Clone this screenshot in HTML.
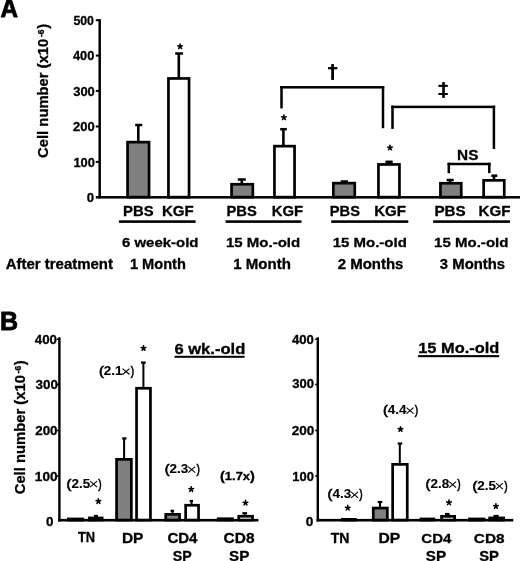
<!DOCTYPE html>
<html><head><meta charset="utf-8"><style>
html,body{margin:0;padding:0;background:#fff;width:520px;height:561px;overflow:hidden}
svg{display:block;will-change:transform}
text{font-family:"Liberation Sans",sans-serif;fill:#000;stroke:#000;stroke-width:0.3px}
</style></head><body>
<svg width="520" height="561" viewBox="0 0 520 561">
<rect width="520" height="561" fill="#fff"/>
<text transform="translate(0.49 17.30) scale(0.9235 1)" font-size="26.309" style="stroke-width:0.8px"><tspan font-weight="bold">A</tspan></text>
<rect x="98.45" y="19.20" width="2.50" height="179.30" fill="#000"/>
<rect x="95.80" y="196.05" width="424.20" height="2.50" fill="#000"/>
<rect x="95.80" y="19.20" width="3.90" height="2.00" fill="#000"/>
<rect x="95.80" y="54.60" width="3.90" height="2.00" fill="#000"/>
<rect x="95.80" y="89.90" width="3.90" height="2.00" fill="#000"/>
<rect x="95.80" y="125.50" width="3.90" height="2.00" fill="#000"/>
<rect x="95.80" y="160.90" width="3.90" height="2.00" fill="#000"/>
<text transform="translate(73.42 24.87) scale(0.9293 1)" font-size="13.277"><tspan font-weight="bold">500</tspan></text>
<text transform="translate(72.91 60.27) scale(0.9670 1)" font-size="13.277"><tspan font-weight="bold">400</tspan></text>
<text transform="translate(73.20 95.55) scale(0.9784 1)" font-size="13.249"><tspan font-weight="bold">300</tspan></text>
<text transform="translate(73.05 131.17) scale(0.9789 1)" font-size="13.277"><tspan font-weight="bold">200</tspan></text>
<text transform="translate(73.39 166.57) scale(0.9725 1)" font-size="13.277"><tspan font-weight="bold">100</tspan></text>
<text transform="translate(86.68 202.27) scale(0.9978 1)" font-size="13.277"><tspan font-weight="bold">0</tspan></text>
<rect x="137.00" y="125.00" width="2.60" height="16.80" fill="#000"/>
<rect x="135.20" y="123.75" width="7.10" height="2.50" fill="#000"/>
<rect x="127.55" y="142.15" width="21.50" height="55.00" fill="#7f7f7f" stroke="#000" stroke-width="2.70"/>
<rect x="177.50" y="53.50" width="2.60" height="24.60" fill="#000"/>
<rect x="175.20" y="52.25" width="7.70" height="2.50" fill="#000"/>
<rect x="168.45" y="78.45" width="20.60" height="118.70" fill="#fff" stroke="#000" stroke-width="2.70"/>
<rect x="240.50" y="179.50" width="2.60" height="4.40" fill="#000"/>
<rect x="237.80" y="178.25" width="8.00" height="2.50" fill="#000"/>
<rect x="231.55" y="184.25" width="21.30" height="12.90" fill="#7f7f7f" stroke="#000" stroke-width="2.70"/>
<rect x="282.10" y="129.20" width="2.60" height="16.60" fill="#000"/>
<rect x="280.20" y="127.95" width="6.60" height="2.50" fill="#000"/>
<rect x="274.45" y="146.15" width="20.10" height="51.00" fill="#fff" stroke="#000" stroke-width="2.70"/>
<rect x="342.70" y="181.50" width="2.60" height="1.30" fill="#000"/>
<rect x="340.70" y="180.25" width="7.20" height="2.50" fill="#000"/>
<rect x="333.35" y="183.15" width="21.40" height="14.00" fill="#7f7f7f" stroke="#000" stroke-width="2.70"/>
<rect x="387.70" y="161.80" width="2.60" height="2.30" fill="#000"/>
<rect x="385.40" y="160.55" width="7.30" height="2.50" fill="#000"/>
<rect x="378.45" y="164.45" width="21.00" height="32.70" fill="#fff" stroke="#000" stroke-width="2.70"/>
<rect x="448.70" y="180.00" width="2.60" height="2.90" fill="#000"/>
<rect x="446.60" y="178.75" width="7.10" height="2.50" fill="#000"/>
<rect x="440.45" y="183.25" width="20.80" height="13.90" fill="#7f7f7f" stroke="#000" stroke-width="2.70"/>
<rect x="492.70" y="175.70" width="2.60" height="4.30" fill="#000"/>
<rect x="491.30" y="174.45" width="6.00" height="2.50" fill="#000"/>
<rect x="483.65" y="180.35" width="20.60" height="16.80" fill="#fff" stroke="#000" stroke-width="2.70"/>
<path d="M180.10 46.50L180.10 44.00M180.10 46.50L177.85 45.80M180.10 46.50L182.35 45.80M180.10 46.50L178.70 48.50M180.10 46.50L181.50 48.50" stroke="#000" stroke-width="1.60" stroke-linecap="round" fill="none"/>
<path d="M283.90 117.50L283.90 115.00M283.90 117.50L281.65 116.80M283.90 117.50L286.15 116.80M283.90 117.50L282.50 119.50M283.90 117.50L285.30 119.50" stroke="#000" stroke-width="1.60" stroke-linecap="round" fill="none"/>
<path d="M390.00 147.70L390.00 145.20M390.00 147.70L387.75 147.00M390.00 147.70L392.25 147.00M390.00 147.70L388.60 149.70M390.00 147.70L391.40 149.70" stroke="#000" stroke-width="1.60" stroke-linecap="round" fill="none"/>
<rect x="280.25" y="86.05" width="2.50" height="22.35" fill="#000"/>
<rect x="381.75" y="86.05" width="2.50" height="42.15" fill="#000"/>
<rect x="280.25" y="86.05" width="104.00" height="2.50" fill="#000"/>
<rect x="391.25" y="105.65" width="2.50" height="23.25" fill="#000"/>
<rect x="492.65" y="105.65" width="2.50" height="43.35" fill="#000"/>
<rect x="391.25" y="105.65" width="103.90" height="2.50" fill="#000"/>
<rect x="447.55" y="162.75" width="2.50" height="10.45" fill="#000"/>
<rect x="488.05" y="162.75" width="2.50" height="10.35" fill="#000"/>
<rect x="447.55" y="162.75" width="43.00" height="2.50" fill="#000"/>
<rect x="331.20" y="64.10" width="2.80" height="15.80" fill="#000"/>
<rect x="328.00" y="67.10" width="9.40" height="2.20" fill="#000"/>
<rect x="442.20" y="82.10" width="2.60" height="15.80" fill="#000"/>
<rect x="438.40" y="84.80" width="9.40" height="2.10" fill="#000"/>
<rect x="438.40" y="93.00" width="9.40" height="2.00" fill="#000"/>
<text transform="translate(457.07 159.66) scale(1.1091 1)" font-size="13.842"><tspan font-weight="bold">NS</tspan></text>
<text transform="translate(123.11 216.26) scale(1.0635 1)" font-size="13.983"><tspan font-weight="bold">PBS</tspan></text>
<text transform="translate(161.89 216.26) scale(1.0760 1)" font-size="13.983"><tspan font-weight="bold">KGF</tspan></text>
<rect x="118.90" y="220.30" width="76.70" height="2.60" fill="#000"/>
<text transform="translate(226.51 216.26) scale(1.0561 1)" font-size="13.983"><tspan font-weight="bold">PBS</tspan></text>
<text transform="translate(271.71 216.26) scale(1.0617 1)" font-size="13.983"><tspan font-weight="bold">KGF</tspan></text>
<rect x="225.60" y="220.30" width="75.90" height="2.60" fill="#000"/>
<text transform="translate(329.82 216.26) scale(1.0488 1)" font-size="13.983"><tspan font-weight="bold">PBS</tspan></text>
<text transform="translate(374.19 216.26) scale(1.0795 1)" font-size="13.983"><tspan font-weight="bold">KGF</tspan></text>
<rect x="331.20" y="220.30" width="77.10" height="2.60" fill="#000"/>
<text transform="translate(434.38 216.26) scale(1.0928 1)" font-size="13.983"><tspan font-weight="bold">PBS</tspan></text>
<text transform="translate(478.59 216.26) scale(1.0831 1)" font-size="13.983"><tspan font-weight="bold">KGF</tspan></text>
<rect x="433.10" y="220.30" width="76.90" height="2.60" fill="#000"/>
<text transform="translate(121.95 247.17) scale(1.0993 1)" font-size="13.617"><tspan font-weight="bold">6 week-old</tspan></text>
<text transform="translate(225.95 247.17) scale(1.1026 1)" font-size="13.617"><tspan font-weight="bold">15 Mo.-old</tspan></text>
<text transform="translate(332.65 247.17) scale(1.1026 1)" font-size="13.617"><tspan font-weight="bold">15 Mo.-old</tspan></text>
<text transform="translate(434.05 247.17) scale(1.1057 1)" font-size="13.617"><tspan font-weight="bold">15 Mo.-old</tspan></text>
<text transform="translate(5.63 269.36) scale(1.0793 1)" font-size="13.889"><tspan font-weight="bold">After treatment</tspan></text>
<text transform="translate(129.88 269.16) scale(1.0323 1)" font-size="14.162"><tspan font-weight="bold">1 Month</tspan></text>
<text transform="translate(233.25 269.16) scale(1.0628 1)" font-size="14.162"><tspan font-weight="bold">1 Month</tspan></text>
<text transform="translate(337.68 269.16) scale(1.0576 1)" font-size="14.162"><tspan font-weight="bold">2 Months</tspan></text>
<text transform="translate(439.86 269.14) scale(1.0536 1)" font-size="14.134"><tspan font-weight="bold">3 Months</tspan></text>
<text transform="translate(47.80 157.91) rotate(-90)" font-size="14.80" font-weight="bold">Cell number (x10</text>
<text transform="translate(43.80 37.04) rotate(-90)" font-size="8.60" font-weight="bold">-6</text>
<text transform="translate(47.80 28.81) rotate(-90)" font-size="14.80" font-weight="bold">)</text>
<text transform="translate(-0.08 329.50) scale(0.9863 1)" font-size="25.436" style="stroke-width:0.8px"><tspan font-weight="bold">B</tspan></text>
<text transform="translate(24.70 494.31) rotate(-90)" font-size="14.80" font-weight="bold">Cell number (x10</text>
<text transform="translate(20.70 373.44) rotate(-90)" font-size="8.60" font-weight="bold">-6</text>
<text transform="translate(24.70 365.21) rotate(-90)" font-size="14.80" font-weight="bold">)</text>
<rect x="58.20" y="337.30" width="2.40" height="184.20" fill="#000"/>
<rect x="58.20" y="518.90" width="200.20" height="2.60" fill="#000"/>
<rect x="56.80" y="338.40" width="2.60" height="1.60" fill="#000"/>
<rect x="56.80" y="383.70" width="2.60" height="1.60" fill="#000"/>
<rect x="56.80" y="429.70" width="2.60" height="1.60" fill="#000"/>
<rect x="56.80" y="475.20" width="2.60" height="1.60" fill="#000"/>
<text transform="translate(34.80 343.67) scale(1.0262 1)" font-size="12.994"><tspan font-weight="bold">400</tspan></text>
<text transform="translate(35.49 388.65) scale(1.0334 1)" font-size="12.967"><tspan font-weight="bold">300</tspan></text>
<text transform="translate(35.24 435.18) scale(1.0520 1)" font-size="12.712"><tspan font-weight="bold">200</tspan></text>
<text transform="translate(34.84 480.98) scale(1.0711 1)" font-size="12.712"><tspan font-weight="bold">100</tspan></text>
<text transform="translate(46.07 525.67) scale(1.0356 1)" font-size="12.994"><tspan font-weight="bold">0</tspan></text>
<rect x="68.35" y="518.95" width="14.50" height="1.10" fill="#7f7f7f" stroke="#000" stroke-width="2.70"/>
<rect x="95.00" y="516.00" width="2.00" height="1.60" fill="#000"/>
<rect x="94.00" y="514.90" width="4.00" height="2.20" fill="#000"/>
<rect x="89.35" y="517.95" width="12.80" height="2.10" fill="#fff" stroke="#000" stroke-width="2.70"/>
<rect x="123.10" y="438.40" width="2.00" height="20.60" fill="#000"/>
<rect x="122.20" y="437.30" width="4.30" height="2.20" fill="#000"/>
<rect x="116.55" y="459.35" width="14.80" height="60.70" fill="#7f7f7f" stroke="#000" stroke-width="2.70"/>
<rect x="142.40" y="362.60" width="2.00" height="25.30" fill="#000"/>
<rect x="141.00" y="361.50" width="4.80" height="2.20" fill="#000"/>
<rect x="136.55" y="388.25" width="13.90" height="131.80" fill="#fff" stroke="#000" stroke-width="2.70"/>
<rect x="171.50" y="510.80" width="2.00" height="3.20" fill="#000"/>
<rect x="170.60" y="509.70" width="3.40" height="2.20" fill="#000"/>
<rect x="165.75" y="514.35" width="13.80" height="5.70" fill="#7f7f7f" stroke="#000" stroke-width="2.70"/>
<rect x="190.50" y="501.00" width="2.00" height="3.90" fill="#000"/>
<rect x="189.70" y="499.90" width="3.30" height="2.20" fill="#000"/>
<rect x="185.65" y="505.25" width="12.90" height="14.80" fill="#fff" stroke="#000" stroke-width="2.70"/>
<rect x="218.15" y="518.75" width="14.40" height="1.30" fill="#7f7f7f" stroke="#000" stroke-width="2.70"/>
<rect x="243.80" y="513.20" width="2.00" height="2.70" fill="#000"/>
<rect x="242.40" y="512.10" width="4.70" height="2.20" fill="#000"/>
<rect x="238.75" y="516.25" width="13.80" height="3.80" fill="#fff" stroke="#000" stroke-width="2.70"/>
<path d="M98.40 501.30L98.40 498.80M98.40 501.30L96.15 500.60M98.40 501.30L100.65 500.60M98.40 501.30L97.00 503.30M98.40 501.30L99.80 503.30" stroke="#000" stroke-width="1.60" stroke-linecap="round" fill="none"/>
<path d="M143.50 348.20L143.50 345.70M143.50 348.20L141.25 347.50M143.50 348.20L145.75 347.50M143.50 348.20L142.10 350.20M143.50 348.20L144.90 350.20" stroke="#000" stroke-width="1.60" stroke-linecap="round" fill="none"/>
<path d="M191.20 489.30L191.20 486.80M191.20 489.30L188.95 488.60M191.20 489.30L193.45 488.60M191.20 489.30L189.80 491.30M191.20 489.30L192.60 491.30" stroke="#000" stroke-width="1.60" stroke-linecap="round" fill="none"/>
<path d="M245.50 502.90L245.50 500.40M245.50 502.90L243.25 502.20M245.50 502.90L247.75 502.20M245.50 502.90L244.10 504.90M245.50 502.90L246.90 504.90" stroke="#000" stroke-width="1.60" stroke-linecap="round" fill="none"/>
<text transform="translate(66.60 487.50) scale(1.1223 1)" font-size="12.000" font-weight="bold" style="stroke-width:0.1px"><tspan font-size="12.996" font-weight="normal" style="stroke-width:0.65px">(</tspan>2.5</text>
<path d="M90.10 481.20L97.10 487.10M97.10 481.20L90.10 487.10" stroke="#000" stroke-width="1.1" fill="none"/>
<text transform="translate(98.34 487.67) scale(0.7713 1)" font-size="13.203" style="stroke-width:0.65px"><tspan font-weight="normal">)</tspan></text>
<text transform="translate(99.00 374.90) scale(1.1223 1)" font-size="12.000" font-weight="bold" style="stroke-width:0.1px"><tspan font-size="12.996" font-weight="normal" style="stroke-width:0.65px">(</tspan>2.1</text>
<path d="M122.50 368.60L129.50 374.50M129.50 368.60L122.50 374.50" stroke="#000" stroke-width="1.1" fill="none"/>
<text transform="translate(130.74 375.07) scale(0.7713 1)" font-size="13.203" style="stroke-width:0.65px"><tspan font-weight="normal">)</tspan></text>
<text transform="translate(164.70 473.00) scale(1.1223 1)" font-size="12.000" font-weight="bold" style="stroke-width:0.1px"><tspan font-size="12.996" font-weight="normal" style="stroke-width:0.65px">(</tspan>2.3</text>
<path d="M188.20 466.70L195.20 472.60M195.20 466.70L188.20 472.60" stroke="#000" stroke-width="1.1" fill="none"/>
<text transform="translate(196.44 473.17) scale(0.7713 1)" font-size="13.203" style="stroke-width:0.65px"><tspan font-weight="normal">)</tspan></text>
<text transform="translate(219.98 479.68) scale(1.1993 1)" font-size="10.824"><tspan font-weight="bold" font-size="12.123">(</tspan><tspan font-weight="bold">1.7x</tspan><tspan font-weight="bold" font-size="12.123">)</tspan></text>
<text transform="translate(174.39 353.56) scale(1.1181 1)" font-size="14.843"><tspan font-weight="bold">6 wk.-old</tspan></text>
<rect x="174.50" y="355.80" width="70.10" height="2.00" fill="#000"/>
<text transform="translate(77.96 541.80) scale(0.9295 1)" font-size="13.808"><tspan font-weight="bold">TN</tspan></text>
<text transform="translate(121.97 542.50) scale(1.0958 1)" font-size="14.099"><tspan font-weight="bold">DP</tspan></text>
<text transform="translate(167.38 542.66) scale(1.0652 1)" font-size="14.124"><tspan font-weight="bold">CD4</tspan></text>
<text transform="translate(172.79 560.76) scale(0.9695 1)" font-size="14.689"><tspan font-weight="bold">SP</tspan></text>
<text transform="translate(223.57 542.66) scale(1.0939 1)" font-size="14.124"><tspan font-weight="bold">CD8</tspan></text>
<text transform="translate(228.96 560.76) scale(1.0391 1)" font-size="14.689"><tspan font-weight="bold">SP</tspan></text>
<rect x="316.60" y="337.30" width="2.40" height="184.20" fill="#000"/>
<rect x="316.60" y="518.90" width="196.70" height="2.60" fill="#000"/>
<rect x="315.20" y="338.40" width="2.60" height="1.60" fill="#000"/>
<rect x="315.20" y="383.70" width="2.60" height="1.60" fill="#000"/>
<rect x="315.20" y="429.70" width="2.60" height="1.60" fill="#000"/>
<rect x="315.20" y="475.20" width="2.60" height="1.60" fill="#000"/>
<text transform="translate(292.00 344.18) scale(1.0460 1)" font-size="12.570"><tspan font-weight="bold">400</tspan></text>
<text transform="translate(292.20 388.46) scale(1.0622 1)" font-size="12.263"><tspan font-weight="bold">300</tspan></text>
<text transform="translate(291.73 435.27) scale(1.0324 1)" font-size="13.135"><tspan font-weight="bold">200</tspan></text>
<text transform="translate(292.28 480.87) scale(0.9986 1)" font-size="12.994"><tspan font-weight="bold">100</tspan></text>
<text transform="translate(305.66 525.57) scale(1.0634 1)" font-size="12.853"><tspan font-weight="bold">0</tspan></text>
<rect x="342.35" y="519.35" width="13.10" height="0.70" fill="#fff" stroke="#000" stroke-width="2.70"/>
<rect x="379.00" y="502.00" width="2.00" height="5.70" fill="#000"/>
<rect x="377.70" y="500.90" width="4.60" height="2.20" fill="#000"/>
<rect x="373.25" y="508.05" width="14.10" height="12.00" fill="#7f7f7f" stroke="#000" stroke-width="2.70"/>
<rect x="398.80" y="443.50" width="2.00" height="20.50" fill="#000"/>
<rect x="397.70" y="442.40" width="4.50" height="2.20" fill="#000"/>
<rect x="392.65" y="464.35" width="14.60" height="55.70" fill="#fff" stroke="#000" stroke-width="2.70"/>
<rect x="420.95" y="518.95" width="12.90" height="1.10" fill="#7f7f7f" stroke="#000" stroke-width="2.70"/>
<rect x="446.50" y="514.00" width="2.00" height="2.00" fill="#000"/>
<rect x="445.00" y="512.90" width="4.60" height="2.20" fill="#000"/>
<rect x="441.55" y="516.35" width="13.10" height="3.70" fill="#fff" stroke="#000" stroke-width="2.70"/>
<rect x="469.35" y="518.95" width="14.70" height="1.10" fill="#7f7f7f" stroke="#000" stroke-width="2.70"/>
<rect x="495.00" y="516.00" width="2.00" height="1.60" fill="#000"/>
<rect x="493.50" y="514.90" width="5.20" height="2.20" fill="#000"/>
<rect x="489.65" y="517.95" width="14.00" height="2.10" fill="#fff" stroke="#000" stroke-width="2.70"/>
<path d="M347.70 507.90L347.70 505.40M347.70 507.90L345.45 507.20M347.70 507.90L349.95 507.20M347.70 507.90L346.30 509.90M347.70 507.90L349.10 509.90" stroke="#000" stroke-width="1.60" stroke-linecap="round" fill="none"/>
<path d="M400.50 429.20L400.50 426.70M400.50 429.20L398.25 428.50M400.50 429.20L402.75 428.50M400.50 429.20L399.10 431.20M400.50 429.20L401.90 431.20" stroke="#000" stroke-width="1.60" stroke-linecap="round" fill="none"/>
<path d="M449.00 502.60L449.00 500.10M449.00 502.60L446.75 501.90M449.00 502.60L451.25 501.90M449.00 502.60L447.60 504.60M449.00 502.60L450.40 504.60" stroke="#000" stroke-width="1.60" stroke-linecap="round" fill="none"/>
<path d="M495.90 506.20L495.90 503.70M495.90 506.20L493.65 505.50M495.90 506.20L498.15 505.50M495.90 506.20L494.50 508.20M495.90 506.20L497.30 508.20" stroke="#000" stroke-width="1.60" stroke-linecap="round" fill="none"/>
<text transform="translate(327.60 498.20) scale(1.1223 1)" font-size="12.000" font-weight="bold" style="stroke-width:0.1px"><tspan font-size="12.996" font-weight="normal" style="stroke-width:0.65px">(</tspan>4.3</text>
<path d="M351.10 491.90L358.10 497.80M358.10 491.90L351.10 497.80" stroke="#000" stroke-width="1.1" fill="none"/>
<text transform="translate(359.34 498.37) scale(0.7713 1)" font-size="13.203" style="stroke-width:0.65px"><tspan font-weight="normal">)</tspan></text>
<text transform="translate(383.00 414.00) scale(1.1223 1)" font-size="12.000" font-weight="bold" style="stroke-width:0.1px"><tspan font-size="12.996" font-weight="normal" style="stroke-width:0.65px">(</tspan>4.4</text>
<path d="M406.50 407.70L413.50 413.60M413.50 407.70L406.50 413.60" stroke="#000" stroke-width="1.1" fill="none"/>
<text transform="translate(414.74 414.17) scale(0.7713 1)" font-size="13.203" style="stroke-width:0.65px"><tspan font-weight="normal">)</tspan></text>
<text transform="translate(425.60 488.00) scale(1.1223 1)" font-size="12.000" font-weight="bold" style="stroke-width:0.1px"><tspan font-size="12.996" font-weight="normal" style="stroke-width:0.65px">(</tspan>2.8</text>
<path d="M449.10 481.70L456.10 487.60M456.10 481.70L449.10 487.60" stroke="#000" stroke-width="1.1" fill="none"/>
<text transform="translate(457.34 488.17) scale(0.7713 1)" font-size="13.203" style="stroke-width:0.65px"><tspan font-weight="normal">)</tspan></text>
<text transform="translate(472.40 489.50) scale(1.1223 1)" font-size="12.000" font-weight="bold" style="stroke-width:0.1px"><tspan font-size="12.996" font-weight="normal" style="stroke-width:0.65px">(</tspan>2.5</text>
<path d="M495.90 483.20L502.90 489.10M502.90 483.20L495.90 489.10" stroke="#000" stroke-width="1.1" fill="none"/>
<text transform="translate(504.14 489.67) scale(0.7713 1)" font-size="13.203" style="stroke-width:0.65px"><tspan font-weight="normal">)</tspan></text>
<text transform="translate(418.17 353.25) scale(1.0771 1)" font-size="15.251"><tspan font-weight="bold">15 Mo.-old</tspan></text>
<rect x="418.10" y="355.10" width="81.10" height="2.10" fill="#000"/>
<text transform="translate(330.74 542.60) scale(0.9906 1)" font-size="14.244"><tspan font-weight="bold">TN</tspan></text>
<text transform="translate(378.45 542.70) scale(1.0898 1)" font-size="14.390"><tspan font-weight="bold">DP</tspan></text>
<text transform="translate(421.28 542.67) scale(1.0982 1)" font-size="13.700"><tspan font-weight="bold">CD4</tspan></text>
<text transform="translate(425.76 560.76) scale(1.0391 1)" font-size="14.689"><tspan font-weight="bold">SP</tspan></text>
<text transform="translate(473.77 542.67) scale(1.1240 1)" font-size="13.700"><tspan font-weight="bold">CD8</tspan></text>
<text transform="translate(479.17 560.76) scale(1.0070 1)" font-size="14.689"><tspan font-weight="bold">SP</tspan></text>
</svg>
</body></html>
